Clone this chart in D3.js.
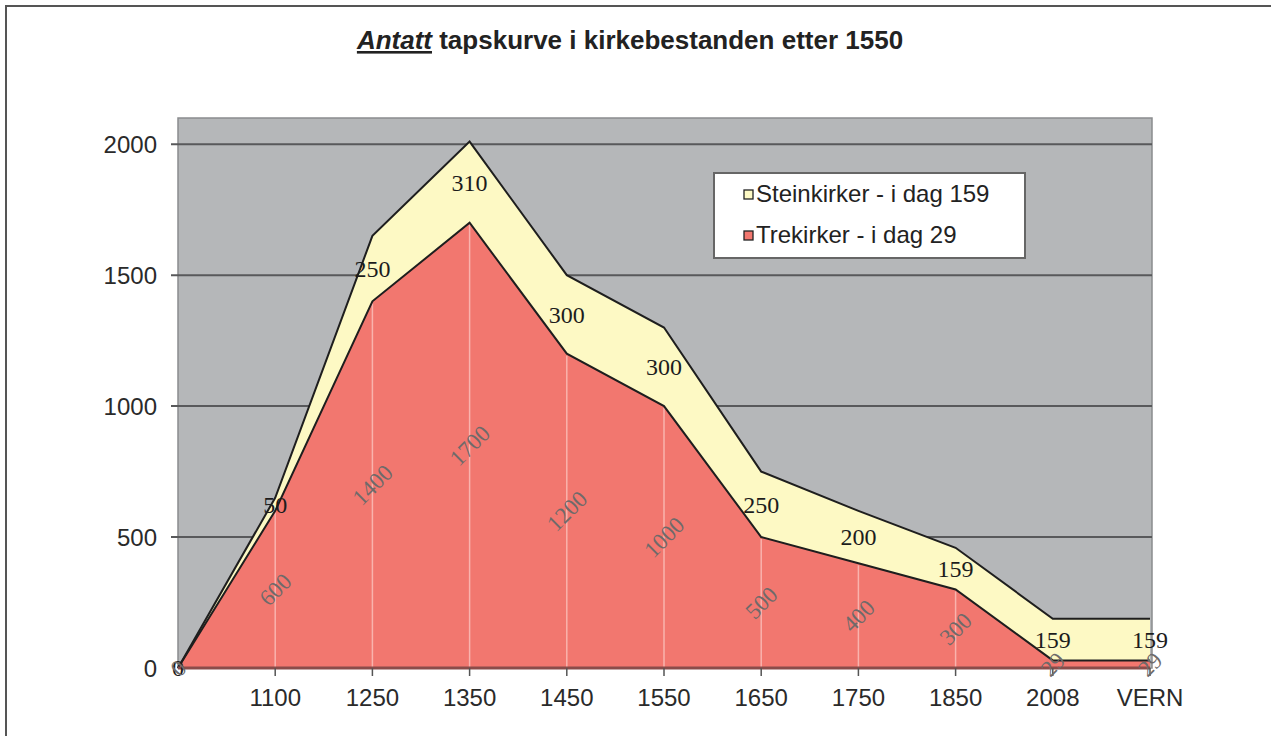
<!DOCTYPE html>
<html>
<head>
<meta charset="utf-8">
<script src="https://cdn.jsdelivr.net/npm/d3@7"></script>
<style>
  html, body { margin: 0; padding: 0; background: #ffffff; }
  svg { display: block; }
</style>
</head>
<body>
<svg id="chart" width="1271" height="736"></svg>
<script>
// ---- data ----
const categories = ["", "1100", "1250", "1350", "1450", "1550", "1650", "1750", "1850", "2008", "VERN"];
const trekirker = [0, 600, 1400, 1700, 1200, 1000, 500, 400, 300, 29, 29];
const steinkirker = [0, 50, 250, 310, 300, 300, 250, 200, 159, 159, 159];
const yTicks = [0, 500, 1000, 1500, 2000];
const seriesNames = ["Steinkirker - i dag 159", "Trekirker - i dag 29"];
const titleItalic = "Antatt";
const titleRest = " tapskurve i kirkebestanden etter 1550";

const colRed = "#f2776f";
const colYellow = "#fdf9c4";
const colPlot = "#b5b7b9";
const colGrid = "#58595b";

const svg = d3.select("#chart");

// frame (top + left lines)
svg.append("line").attr("x1", 5).attr("y1", 6).attr("x2", 1271).attr("y2", 6)
  .attr("stroke", "#555").attr("stroke-width", 2);
svg.append("line").attr("x1", 6).attr("y1", 5).attr("x2", 6).attr("y2", 736)
  .attr("stroke", "#555").attr("stroke-width", 2);

const plot = { left: 178, right: 1152, top: 118, bottom: 668 };

const x = d3.scalePoint().domain(categories).range([plot.left, 1150]);
const y = d3.scaleLinear().domain([0, 2100]).range([plot.bottom, plot.top]);

// plot background
svg.append("rect")
  .attr("x", plot.left).attr("y", plot.top)
  .attr("width", plot.right - plot.left).attr("height", plot.bottom - plot.top)
  .attr("fill", colPlot).attr("stroke", "#8a8c8e").attr("stroke-width", 1.5);

// gridlines
svg.append("g").selectAll("line").data(yTicks.filter(d => d > 0)).join("line")
  .attr("x1", plot.left - 7).attr("x2", plot.right)
  .attr("y1", d => y(d)).attr("y2", d => y(d))
  .attr("stroke", colGrid).attr("stroke-width", 2);

// stacked data
const rows = categories.map((c, i) => ({ c, red: trekirker[i], stone: steinkirker[i] }));

const areaRed = d3.area().x(d => x(d.c)).y0(d => y(0)).y1(d => y(d.red));
const areaStone = d3.area().x(d => x(d.c)).y0(d => y(d.red)).y1(d => y(d.red + d.stone));

svg.append("path").datum(rows).attr("d", areaStone).attr("fill", colYellow);
svg.append("path").datum(rows).attr("d", areaRed).attr("fill", colRed);

// light vertical lines inside red area
svg.append("g").selectAll("line").data(rows.slice(1, 9)).join("line")
  .attr("x1", d => x(d.c)).attr("x2", d => x(d.c))
  .attr("y1", d => y(d.red) + 2).attr("y2", y(0))
  .attr("stroke", "#f9b3ad").attr("stroke-width", 1.5);

// outlines
svg.append("path").datum(rows)
  .attr("d", d3.line().x(d => x(d.c)).y(d => y(d.red + d.stone)))
  .attr("fill", "none").attr("stroke", "#1e1e1e").attr("stroke-width", 2);
svg.append("path").datum(rows)
  .attr("d", d3.line().x(d => x(d.c)).y(d => y(d.red)))
  .attr("fill", "none").attr("stroke", "#1e1e1e").attr("stroke-width", 2);

// x axis line + ticks
svg.append("line").attr("x1", plot.left).attr("x2", 1150)
  .attr("y1", y(0)).attr("y2", y(0))
  .attr("stroke", "#8a4c4a").attr("stroke-width", 3);
svg.append("g").selectAll("line").data(categories.slice(1)).join("line")
  .attr("x1", d => x(d)).attr("x2", d => x(d))
  .attr("y1", y(0)).attr("y2", y(0) + 8)
  .attr("stroke", "#555").attr("stroke-width", 1.5);

// y tick labels
svg.append("g").selectAll("text").data(yTicks).join("text")
  .attr("x", 157).attr("y", d => y(d)).attr("dy", "0.36em")
  .attr("text-anchor", "end")
  .attr("font-family", "Liberation Sans, Arial, sans-serif")
  .attr("font-size", 24).attr("fill", "#2a2a2a")
  .text(d => d);

// x tick labels
svg.append("g").selectAll("text").data(categories.slice(1)).join("text")
  .attr("x", d => x(d)).attr("y", 706)
  .attr("text-anchor", "middle")
  .attr("font-family", "Liberation Sans, Arial, sans-serif")
  .attr("font-size", 24).attr("fill", "#2a2a2a")
  .text(d => d);

// data labels: stone (upright, black)
svg.append("g").selectAll("text").data(rows).join("text")
  .attr("x", d => x(d.c)).attr("y", d => y(d.red + d.stone / 2)).attr("dy", "0.35em")
  .attr("text-anchor", "middle")
  .attr("font-family", "Liberation Serif, Times New Roman, serif")
  .attr("font-size", 24).attr("fill", "#1c1c1c")
  .text(d => d.stone);

// data labels: wood (rotated, gray)
svg.append("g").selectAll("text").data(rows).join("text")
  .attr("transform", d => `translate(${x(d.c)},${y(d.red / 2)}) rotate(-45)`)
  .attr("dy", "0.35em")
  .attr("text-anchor", "middle")
  .attr("font-family", "Liberation Serif, Times New Roman, serif")
  .attr("font-size", 23).attr("fill", "#6e6a6a")
  .text(d => d.red);

// title
const title = svg.append("text").attr("x", 630).attr("y", 49)
  .attr("text-anchor", "middle")
  .attr("font-family", "Liberation Sans, Arial, sans-serif")
  .attr("font-size", 26).attr("font-weight", "bold").attr("fill", "#222");
title.append("tspan").attr("font-style", "italic").attr("text-decoration", "underline").text(titleItalic);
title.append("tspan").text(titleRest);

// legend
const lg = svg.append("g");
lg.append("rect").attr("x", 714).attr("y", 173).attr("width", 311).attr("height", 85)
  .attr("fill", "#ffffff").attr("stroke", "#666").attr("stroke-width", 2);
const legendColors = [colYellow, colRed];
seriesNames.forEach((name, i) => {
  const yy = 202 + i * 41;
  lg.append("rect").attr("x", 744).attr("y", yy - 12).attr("width", 9).attr("height", 9)
    .attr("fill", legendColors[i]).attr("stroke", "#222").attr("stroke-width", 1.3);
  lg.append("text").attr("x", 756).attr("y", yy)
    .attr("font-family", "Liberation Sans, Arial, sans-serif")
    .attr("font-size", 24).attr("fill", "#222")
    .text(name);
});
</script>
</body>
</html>
